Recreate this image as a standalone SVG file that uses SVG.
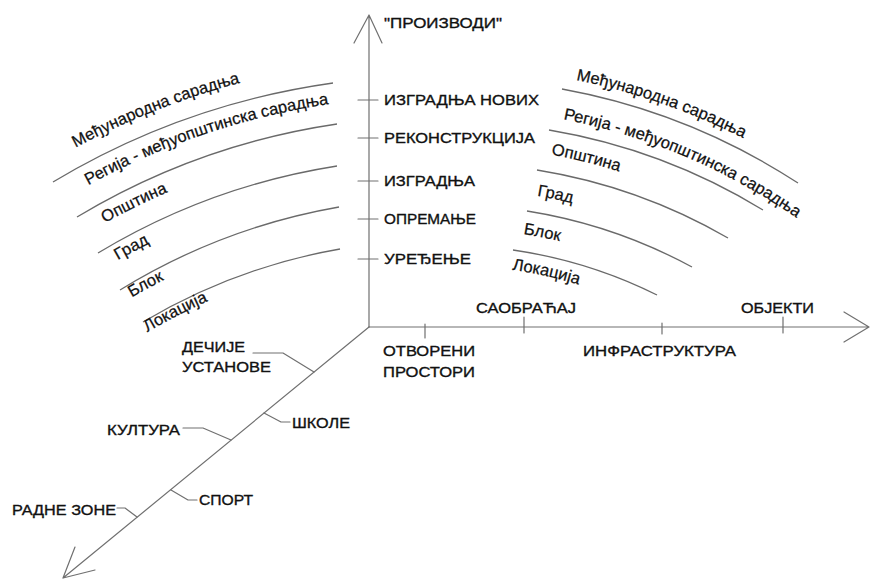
<svg xmlns="http://www.w3.org/2000/svg" width="870" height="580" viewBox="0 0 870 580">
<style>
.ln{fill:none;stroke:#707070;stroke-width:1.2;stroke-linecap:round;stroke-linejoin:round}
.arc{fill:none;stroke:#6a6a6a;stroke-width:1.3}
.lbl{font-family:"Liberation Sans",Arial,Helvetica,sans-serif;font-size:15px;fill:#111111;stroke:#111111;stroke-width:0.35}
.cl{font-family:"Liberation Sans",Arial,Helvetica,sans-serif;font-size:16.5px;fill:#111111;stroke:#111111;stroke-width:0.25}
</style>
<defs>
<path id="pl1" d="M75.5,147.8 A765,765 0 0 1 527.6,62.4"/>
<path id="pl2" d="M88.4,185.2 A726,726 0 0 1 516.6,100.4"/>
<path id="pl3" d="M104.9,222.9 A685,685 0 0 1 508.6,140.8"/>
<path id="pl4" d="M117.9,260.3 A646,646 0 0 1 497.8,178.8"/>
<path id="pl5" d="M131.7,297.4 A607,607 0 0 1 487.8,217.1"/>
<path id="pl6" d="M147.4,332.3 A569,569 0 0 1 480.6,254.7"/>
<path id="pr1" d="M576,80 A655,655 0 0 1 920.7,270.6"/>
<path id="pr2" d="M563.2,119.3 A614,614 0 0 1 887.7,295.5"/>
<path id="pr3" d="M551.1,154.6 A577,577 0 0 1 857.6,317.6"/>
<path id="pr4" d="M536.9,195.8 A534,534 0 0 1 822.3,343.1"/>
<path id="pr5" d="M523.3,234.1 A494,494 0 0 1 789.2,366.7"/>
<path id="pr6" d="M512,269.8 A457,457 0 0 1 759.4,389.4"/>
</defs>
<rect width="870" height="580" fill="#ffffff"/>
<g id="connectors">
<path class="ln" d="M369,327 V15 M354,43 L369,15 L382,43"/>
<path class="ln" d="M369,327 H869 M844,312 L869,327 L844,342"/>
<path class="ln" d="M369,327 L63,578 M75,547 L63,578 L95,570"/>
<path class="ln" d="M358,100 H378 M358,138 H378 M358,181 H378 M358,219 H378 M358,259 H378"/>
<path class="ln" d="M425,324 V338 M524,317 V333 M662,323 V334 M783,317 V333"/>
<path class="ln" d="M253,353 H283 L314,372"/>
<path class="ln" d="M264,413 L281,422 H290"/>
<path class="ln" d="M183,428 H203 L231,440"/>
<path class="ln" d="M171,490 L188,500 H197"/>
<path class="ln" d="M117,508 H125 L137,517"/>
<path class="arc" d="M53,182 A746,746 0 0 1 333,83"/>
<path class="arc" d="M77,217 A705,705 0 0 1 337,124"/>
<path class="arc" d="M98,253 A662,662 0 0 1 337,166"/>
<path class="arc" d="M120,290 A621,621 0 0 1 339,207"/>
<path class="arc" d="M143,322 A580,580 0 0 1 340,249"/>
<path class="arc" d="M562,89 A644,644 0 0 1 798,183"/>
<path class="arc" d="M549,130 A601,601 0 0 1 763,210"/>
<path class="arc" d="M537,170 A560,560 0 0 1 728,238"/>
<path class="arc" d="M527,211 A517,517 0 0 1 692,267"/>
<path class="arc" d="M513,250 A476,476 0 0 1 657,295"/>
</g>
<g id="n-proizvodi"><text class="lbl" x="384" y="28" textLength="118" lengthAdjust="spacingAndGlyphs">"ПРОИЗВОДИ"</text></g>
<g id="n-izgradnja-novih"><text class="lbl" x="384" y="105" textLength="155" lengthAdjust="spacingAndGlyphs">ИЗГРАДЊА НОВИХ</text></g>
<g id="n-rekonstrukcija"><text class="lbl" x="384" y="143" textLength="151" lengthAdjust="spacingAndGlyphs">РЕКОНСТРУКЦИЈА</text></g>
<g id="n-izgradnja"><text class="lbl" x="384" y="186" textLength="91" lengthAdjust="spacingAndGlyphs">ИЗГРАДЊА</text></g>
<g id="n-opremanje"><text class="lbl" x="384" y="224" textLength="92" lengthAdjust="spacingAndGlyphs">ОПРЕМАЊЕ</text></g>
<g id="n-uredjenje"><text class="lbl" x="384" y="264" textLength="87" lengthAdjust="spacingAndGlyphs">УРЕЂЕЊЕ</text></g>
<g id="n-saobracaj"><text class="lbl" x="476" y="313" textLength="100" lengthAdjust="spacingAndGlyphs">САОБРАЋАЈ</text></g>
<g id="n-objekti"><text class="lbl" x="741" y="313" textLength="73" lengthAdjust="spacingAndGlyphs">ОБЈЕКТИ</text></g>
<g id="n-otvoreni"><text class="lbl" x="383" y="356" textLength="92" lengthAdjust="spacingAndGlyphs">ОТВОРЕНИ</text><text class="lbl" x="383" y="377" textLength="92" lengthAdjust="spacingAndGlyphs">ПРОСТОРИ</text></g>
<g id="n-infrastruktura"><text class="lbl" x="583" y="356" textLength="153" lengthAdjust="spacingAndGlyphs">ИНФРАСТРУКТУРА</text></g>
<g id="n-decije"><text class="lbl" x="182" y="352" textLength="63" lengthAdjust="spacingAndGlyphs">ДЕЧИЈЕ</text><text class="lbl" x="182" y="372" textLength="89" lengthAdjust="spacingAndGlyphs">УСТАНОВЕ</text></g>
<g id="n-skole"><text class="lbl" x="292" y="428" textLength="58" lengthAdjust="spacingAndGlyphs">ШКОЛЕ</text></g>
<g id="n-kultura"><text class="lbl" x="107" y="435" textLength="73" lengthAdjust="spacingAndGlyphs">КУЛТУРА</text></g>
<g id="n-sport"><text class="lbl" x="199" y="505" textLength="54" lengthAdjust="spacingAndGlyphs">СПОРТ</text></g>
<g id="n-radne-zone"><text class="lbl" x="12" y="515" textLength="104" lengthAdjust="spacingAndGlyphs">РАДНЕ ЗОНЕ</text></g>
<g id="n-left-scale">
<text class="cl"><textPath href="#pl1">Међународна сарадња</textPath></text>
<text class="cl"><textPath href="#pl2">Регија - међуопштинска сарадња</textPath></text>
<text class="cl"><textPath href="#pl3">Општина</textPath></text>
<text class="cl"><textPath href="#pl4">Град</textPath></text>
<text class="cl"><textPath href="#pl5">Блок</textPath></text>
<text class="cl"><textPath href="#pl6">Локација</textPath></text>
</g>
<g id="n-right-scale">
<text class="cl"><textPath href="#pr1">Међународна сарадња</textPath></text>
<text class="cl"><textPath href="#pr2">Регија - међуопштинска сарадња</textPath></text>
<text class="cl"><textPath href="#pr3">Општина</textPath></text>
<text class="cl"><textPath href="#pr4">Град</textPath></text>
<text class="cl"><textPath href="#pr5">Блок</textPath></text>
<text class="cl"><textPath href="#pr6">Локација</textPath></text>
</g>
</svg>
